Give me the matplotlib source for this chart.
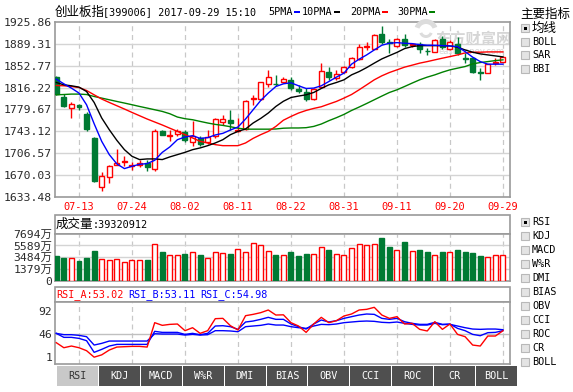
import matplotlib
matplotlib.use("Agg")
import matplotlib.pyplot as plt
from matplotlib.patches import Rectangle, Wedge

plt.rcParams['font.family'] = ['DejaVu Sans Mono', 'Noto Sans CJK SC']

# ---- data ----
dates = ['07-10', '07-11', '07-12', '07-13', '07-14', '07-17', '07-18', '07-19', '07-20', '07-21',
         '07-24', '07-25', '07-26', '07-27', '07-28', '07-31', '08-01', '08-02', '08-03', '08-04',
         '08-07', '08-08', '08-09', '08-10', '08-11', '08-14', '08-15', '08-16', '08-17', '08-18',
         '08-21', '08-22', '08-23', '08-24', '08-25', '08-28', '08-29', '08-30', '08-31', '09-01',
         '09-04', '09-05', '09-06', '09-07', '09-08', '09-11', '09-12', '09-13', '09-14', '09-15',
         '09-18', '09-19', '09-20', '09-21', '09-22', '09-25', '09-26', '09-27', '09-28', '09-29']
tick_dates = ['07-13', '07-24', '08-02', '08-11', '08-22', '08-31', '09-11', '09-20', '09-29']

open_ = [1833.2, 1800.2, 1781.2, 1786.2, 1771.8, 1732.3, 1650.0, 1666.7, 1686.7, 1691.7,
         1684.4, 1687.2, 1690.0, 1680.5, 1742.8, 1734.8, 1737.8, 1742.3, 1725.6, 1731.1,
         1724.4, 1734.4, 1758.5, 1762.3, 1743.1, 1746.8, 1797.4, 1796.9, 1821.9, 1822.7,
         1825.2, 1829.1, 1814.1, 1808.6, 1796.9, 1817.9, 1841.9, 1831.9, 1842.9, 1851.3,
         1863.6, 1883.7, 1881.3, 1905.9, 1891.7, 1885.8, 1897.0, 1887.5, 1889.2, 1878.0,
         1876.3, 1897.0, 1880.3, 1889.2, 1865.8, 1865.3, 1841.9, 1841.3, 1857.5, 1859.6]
close = [1805.7, 1785.7, 1787.9, 1782.8, 1746.8, 1660.0, 1668.4, 1685.0, 1690.0, 1693.1,
         1687.2, 1689.4, 1683.4, 1744.0, 1737.3, 1736.8, 1743.5, 1727.8, 1734.4, 1721.1,
         1732.8, 1763.5, 1763.5, 1756.8, 1745.3, 1794.0, 1799.4, 1825.2, 1833.6, 1821.4,
         1830.2, 1816.2, 1809.6, 1797.4, 1814.1, 1844.1, 1833.6, 1838.6, 1850.3, 1865.3,
         1883.7, 1885.3, 1904.2, 1892.5, 1890.0, 1896.7, 1887.0, 1888.3, 1880.3, 1877.0,
         1895.8, 1883.7, 1893.0, 1873.6, 1864.6, 1842.9, 1840.8, 1855.3, 1858.6, 1867.0]
high = [1834.9, 1805.7, 1791.9, 1788.5, 1774.5, 1733.1, 1675.5, 1687.2, 1713.4, 1702.2,
        1691.1, 1695.6, 1695.6, 1746.8, 1745.6, 1745.6, 1746.8, 1745.6, 1759.5, 1734.4,
        1745.6, 1765.7, 1770.7, 1779.0, 1765.7, 1795.7, 1804.0, 1825.7, 1845.8, 1837.4,
        1834.6, 1833.6, 1820.7, 1815.2, 1815.2, 1858.0, 1851.3, 1845.8, 1852.4, 1868.0,
        1889.2, 1891.7, 1905.0, 1919.2, 1897.5, 1898.3, 1905.9, 1891.0, 1893.0, 1882.0,
        1896.7, 1902.5, 1895.0, 1900.0, 1873.6, 1868.0, 1848.6, 1855.8, 1865.3, 1867.4]
low = [1804.0, 1783.5, 1764.5, 1777.8, 1742.8, 1657.7, 1643.8, 1656.7, 1686.0, 1684.4,
       1678.9, 1683.4, 1676.0, 1676.0, 1736.1, 1726.1, 1735.6, 1724.4, 1718.9, 1718.9,
       1722.3, 1731.8, 1753.5, 1745.6, 1741.1, 1745.6, 1787.4, 1795.7, 1816.9, 1819.1,
       1823.6, 1812.4, 1806.9, 1792.9, 1795.7, 1816.9, 1829.1, 1829.1, 1840.3, 1848.6,
       1862.4, 1878.3, 1880.0, 1889.2, 1873.6, 1884.7, 1884.7, 1884.0, 1873.6, 1870.8,
       1875.8, 1880.3, 1879.1, 1870.8, 1857.0, 1840.3, 1829.1, 1840.8, 1854.1, 1859.1]

ma5 = [1830.2, 1822.4, 1815.2, 1806.9, 1787.3, 1755.6, 1726.1, 1703.9, 1688.4, 1680.5,
       1684.4, 1687.7, 1688.9, 1694.4, 1707.7, 1716.8, 1728.9, 1733.4, 1735.6, 1731.1,
       1732.3, 1736.8, 1739.5, 1745.1, 1750.1, 1763.5, 1779.0, 1794.5, 1806.9, 1817.9,
       1822.4, 1824.1, 1819.1, 1814.6, 1815.2, 1819.1, 1826.2, 1833.6, 1840.3, 1855.3,
       1863.6, 1870.8, 1879.1, 1887.0, 1890.3, 1891.3, 1890.3, 1889.7, 1888.0, 1887.0,
       1887.0, 1886.3, 1885.8, 1884.7, 1876.3, 1867.0, 1859.6, 1855.3, 1855.3, 1855.3]
ma10 = [1824.6, 1820.7, 1819.1, 1816.9, 1809.5, 1791.2, 1765.2, 1745.6, 1727.8, 1712.2,
        1701.1, 1695.6, 1696.7, 1696.7, 1695.6, 1700.1, 1703.9, 1707.7, 1712.2, 1715.1,
        1718.9, 1723.4, 1728.9, 1737.3, 1742.8, 1746.8, 1756.8, 1764.5, 1773.5, 1784.5,
        1793.2, 1799.5, 1801.9, 1804.0, 1807.9, 1814.6, 1820.7, 1824.6, 1829.1, 1837.4,
        1842.9, 1849.6, 1857.0, 1864.1, 1869.6, 1875.0, 1881.3, 1884.7, 1886.3, 1886.3,
        1886.3, 1886.3, 1885.8, 1883.7, 1879.1, 1875.3, 1872.5, 1870.8, 1869.1, 1867.5]
ma20 = [1819.6, 1819.1, 1817.9, 1816.2, 1811.2, 1804.0, 1796.9, 1791.2, 1785.7, 1780.2,
        1774.5, 1769.0, 1763.5, 1758.5, 1753.5, 1748.1, 1742.8, 1737.3, 1731.8, 1726.1,
        1723.4, 1720.6, 1718.9, 1718.9, 1718.9, 1723.4, 1731.1, 1737.3, 1742.8, 1751.1,
        1761.5, 1767.8, 1773.5, 1777.8, 1781.2, 1784.0, 1788.5, 1792.9, 1798.5, 1804.5,
        1812.4, 1820.7, 1829.1, 1835.8, 1841.3, 1845.8, 1850.3, 1853.6, 1857.0, 1859.6,
        1862.5, 1865.3, 1868.0, 1870.8, 1874.1, 1875.3, 1875.3, 1875.8, 1875.8, 1875.8]
ma30 = [1804.0, 1804.5, 1805.2, 1805.2, 1804.5, 1801.2, 1798.5, 1795.7, 1792.9, 1790.2,
        1787.4, 1784.5, 1781.8, 1779.0, 1776.2, 1772.3, 1766.8, 1764.0, 1762.3, 1759.5,
        1756.8, 1754.5, 1752.8, 1750.6, 1748.1, 1746.5, 1746.5, 1746.5, 1746.5, 1746.8,
        1748.1, 1748.5, 1748.5, 1749.0, 1751.1, 1755.1, 1760.7, 1765.7, 1771.2, 1777.8,
        1783.5, 1789.5, 1795.7, 1801.9, 1807.9, 1812.4, 1817.9, 1823.6, 1829.1, 1833.6,
        1837.4, 1841.9, 1845.8, 1848.6, 1851.3, 1855.8, 1858.0, 1859.6, 1861.3, 1862.5]

# volume in 万 (10k)
volume = [3758, 3400, 3347, 2864, 3400, 4653, 3168, 3043, 3168, 2631,
          2989, 2989, 3043, 5851, 4474, 3883, 3883, 4116, 4420, 3937,
          3347, 4420, 4241, 4116, 4957, 4420, 6030, 5726, 4653, 3883,
          3937, 4349, 3758, 3991, 3991, 5315, 4706, 4116, 3937, 5189,
          5905, 5601, 5905, 6978, 5243, 4832, 6263, 4653, 4832, 4349,
          3937, 4349, 4474, 4832, 4474, 4170, 3758, 3579, 3937, 3932]

rsi_a = [29.7, 19.9, 23.2, 19.9, 14.1, 1.5, 6.0, 15.4, 21.2, 21.9,
         22.5, 22.5, 21.2, 68.7, 63.5, 65.4, 66.1, 53.1, 58.9, 47.9,
         53.1, 76.5, 77.1, 62.8, 54.4, 82.3, 84.9, 88.2, 93.4, 83.6,
         84.0, 68.7, 62.2, 49.8, 66.1, 79.1, 68.7, 72.6, 81.7, 85.6,
         93.4, 94.7, 98.6, 83.6, 77.1, 80.4, 66.1, 67.4, 55.7, 52.5,
         70.6, 55.7, 66.1, 45.9, 41.4, 25.1, 23.2, 42.7, 42.7, 53.02]
rsi_b = [47.9, 40.1, 40.1, 38.1, 33.6, 10.9, 16.7, 23.2, 26.4, 26.4,
         26.4, 26.4, 26.4, 51.8, 49.8, 49.8, 49.8, 45.9, 47.9, 45.3,
         47.9, 62.2, 62.8, 60.9, 55.7, 70.0, 71.9, 75.2, 79.1, 75.2,
         75.2, 66.1, 60.9, 56.3, 66.1, 73.9, 70.0, 72.6, 77.1, 80.4,
         83.6, 85.6, 84.9, 77.1, 75.2, 77.1, 70.6, 67.4, 65.4, 65.4,
         69.4, 65.4, 66.1, 57.6, 53.1, 45.9, 43.3, 49.2, 49.8, 53.11]
rsi_c = [47.9, 45.3, 45.3, 44.0, 41.4, 25.1, 28.4, 32.9, 32.9, 32.9,
         32.9, 32.9, 32.9, 47.2, 46.6, 46.6, 46.6, 44.6, 45.9, 44.6,
         45.3, 53.1, 53.1, 52.5, 51.1, 60.9, 62.2, 63.5, 66.1, 64.1,
         64.1, 60.9, 58.9, 57.6, 62.2, 65.4, 64.8, 66.1, 68.7, 70.0,
         71.3, 71.9, 71.3, 69.4, 68.7, 70.0, 67.4, 65.4, 64.1, 64.1,
         67.4, 64.8, 65.4, 62.2, 58.9, 56.3, 55.7, 56.3, 56.3, 54.98]

price_ticks = [1633.48, 1670.03, 1706.57, 1743.12, 1779.67, 1816.22, 1852.77, 1889.31, 1925.86]
vol_ticks = [1379, 3484, 5589, 7694]
rsi_ticks = [1, 46, 92]
total_volume = '39320912'
main_tabs = ['均线', 'BOLL', 'SAR', 'BBI']
sub_tabs = ['RSI', 'KDJ', 'MACD', 'W%R', 'DMI', 'BIAS', 'OBV', 'CCI', 'ROC', 'CR', 'BOLL']

# ---- style ----
W, H = 573, 392
RED = '#ff0000'
GREEN = '#007a33'
GRID = '#d4d4d4'
FRAME = '#9a9a9a'
LAB = '#2a2a2a'


def px_rect(x0, y0, x1, y1):
    return [x0 / W, 1 - y1 / H, (x1 - x0) / W, (y1 - y0) / H]


fig = plt.figure(figsize=(W / 100, H / 100), dpi=100)
fig.patch.set_facecolor('white')

# decoration layer in pixel coordinates
deco = fig.add_axes([0, 0, 1, 1], zorder=0)
deco.set_xlim(0, W)
deco.set_ylim(H, 0)
deco.axis('off')

n = len(dates)
idx = list(range(n))
xlim = (-0.17, n - 1 + 0.93)
tick_pos = [dates.index(d) for d in tick_dates]
bw = 0.66


def style_axes(ax):
    ax.set_xlim(*xlim)
    for s in ax.spines.values():
        s.set_color(FRAME)
        s.set_linewidth(1.2)
    ax.tick_params(length=0, colors=LAB, labelsize=8.2, pad=2)
    for p in tick_pos:
        ax.axvline(p, color='#c8c8c8', lw=0.9, ls=(0, (4, 3)), zorder=0.5)


# ---- main price panel ----
ax = fig.add_axes(px_rect(55, 22, 510, 196.7), zorder=2)
style_axes(ax)
ax.set_ylim(price_ticks[0], price_ticks[-1])
ax.set_yticks(price_ticks)
ax.set_yticklabels(['%.2f' % t for t in price_ticks])
for t in price_ticks[1:-1]:
    ax.axhline(t, color=GRID, lw=1, zorder=0.5)
ax.set_xticks(tick_pos)
ax.set_xticklabels(tick_dates, color=RED, fontsize=7.4)
ax.tick_params(axis='x', pad=4)

# watermark
ax.text(0.92, 0.905, '东方财富网', transform=ax.transAxes, ha='center', va='center',
        fontsize=11, color='#d6d6d6', fontweight='bold', family='Noto Sans CJK SC', zorder=0.6)
ax.text(0.915, 0.83, 'eastmoney.com', transform=ax.transAxes, ha='center', va='center',
        fontsize=6, color='#d6d6d6', family='DejaVu Sans', zorder=0.6)
deco_top = fig.add_axes(px_rect(410, 16, 440, 46), zorder=2.5)
deco_top.set_xlim(0, 30)
deco_top.set_ylim(30, 0)
deco_top.axis('off')
deco_top.add_patch(Wedge((16, 15), 12, 200, 340, width=5, facecolor='#dcdcdc', ec='none'))
deco_top.add_patch(Wedge((16, 15), 7, 20, 160, width=3, facecolor='#dcdcdc', ec='none'))

for i in idx:
    o, c, hi, lo = open_[i], close[i], high[i], low[i]
    up = c >= o
    col = RED if up else GREEN
    top, bot = max(o, c), min(o, c)
    ax.vlines(i, top, hi, color=col, lw=1, zorder=2)
    ax.vlines(i, lo, bot, color=col, lw=1, zorder=2)
    ax.add_patch(Rectangle((i - bw / 2, bot), bw, max(top - bot, 0.3),
                           facecolor='white' if up else GREEN, edgecolor=col, lw=1, zorder=3))

ax.plot(idx, ma30, color='#008000', lw=1, zorder=4)
ax.plot(idx, ma20, color=RED, lw=1, zorder=4)
ax.plot(idx, ma10, color='black', lw=1, zorder=4)
ax.plot(idx, ma5, color='#0000ff', lw=1, zorder=4)

# ---- volume panel ----
vol_floor = 2 * vol_ticks[0] - vol_ticks[1]
deco.add_patch(Rectangle((55, 215), 455, 18.7, fill=False, ec=FRAME, lw=1.2))
deco.text(56, 224.5, '成交量', fontsize=9, va='center', ha='left', color='black', family='Noto Sans CJK SC')
deco.text(93, 224.5, ':' + total_volume, fontsize=7.3, va='center', ha='left', color='black')

axv = fig.add_axes(px_rect(55, 233.7, 510, 280.7), zorder=2)
style_axes(axv)
axv.set_ylim(vol_floor, vol_ticks[-1])
axv.set_yticks([vol_floor] + vol_ticks)
axv.set_yticklabels(['0'] + ['%d万' % v for v in vol_ticks])
axv.set_xticks([])
for t in vol_ticks[:-1]:
    axv.axhline(t, color=GRID, lw=1, zorder=0.5)
for i in idx:
    up = close[i] >= open_[i]
    axv.bar(i, volume[i] - vol_floor, bottom=vol_floor, width=bw,
            color='white' if up else GREEN, edgecolor=RED if up else GREEN, lw=1, zorder=3)

# ---- RSI panel ----
deco.add_patch(Rectangle((55, 287.3), 455, 15, fill=False, ec=FRAME, lw=1.2))
deco.text(56, 295, 'RSI_A:%.2f' % rsi_a[-1], fontsize=7.3, color=RED, va='center')
deco.text(128, 295, 'RSI_B:%.2f' % rsi_b[-1], fontsize=7.3, color='#0000ff', va='center')
deco.text(200, 295, 'RSI_C:%.2f' % rsi_c[-1], fontsize=7.3, color='#0000ff', va='center')

axr = fig.add_axes(px_rect(55, 302.3, 510, 364.3), zorder=2)
style_axes(axr)
axr.set_ylim(-12.4, 108.4)
axr.set_yticks(rsi_ticks)
axr.set_xticks([])
axr.axhline(46, color='#c0c0c0', lw=1, zorder=0.5)
axr.plot(idx, rsi_c, color='#0000ff', lw=1, zorder=3)
axr.plot(idx, rsi_b, color='#0000ff', lw=1, zorder=3)
axr.plot(idx, rsi_a, color=RED, lw=1, zorder=4)

# ---- bottom tabs ----
tab_w = 41.96
for k, name in enumerate(sub_tabs):
    x0 = 56.7 + k * tab_w
    sel = k == 0
    deco.add_patch(Rectangle((x0, 365.7), tab_w - 1, 20.3, facecolor='#c8c8c8' if sel else '#4f4f4f', ec='none'))
    deco.text(x0 + (tab_w - 1) / 2, 376, name, ha='center', va='center', fontsize=7.3,
              color='#333333' if sel else 'white')

# ---- title & legend ----
deco.text(55, 12, '创业板指', fontsize=9, va='center', ha='left', family='Noto Sans CJK SC')
deco.text(103, 12, '[399006] 2017-09-29 15:10', fontsize=7.3, va='center', ha='left')
legend = [('5PMA', 268, '#0000ff'), ('10PMA', 302, 'black'), ('20PMA', 350, RED), ('30PMA', 397, '#008000')]
for name, x0, col in legend:
    deco.text(x0, 12, name, fontsize=7.3, va='center', ha='left')
    xe = x0 + 6.05 * len(name) + 2
    deco.add_patch(Rectangle((xe, 11), 6, 2, facecolor=col, ec='none'))

# ---- right side selectors ----
deco.text(520, 14, '主要指标', fontsize=9, va='center', ha='left', family='Noto Sans CJK SC')


def checkbox(y, label, checked):
    deco.add_patch(Rectangle((521, y - 4), 8, 8, facecolor='#e4e4e4', ec='#b8b8b8', lw=0.8))
    if checked:
        deco.add_patch(Rectangle((523.5, y - 1.5), 3, 3, facecolor='black', ec='none'))
    deco.text(532, y, label, fontsize=9 if label == '均线' else 7.3, va='center', ha='left',
              family='Noto Sans CJK SC' if label == '均线' else 'DejaVu Sans Mono')


for k, name in enumerate(main_tabs):
    checkbox(28 + k * 13.7, name, k == 0)
for k, name in enumerate(sub_tabs):
    checkbox(222.3 + k * 13.95, name, k == 0)

fig.savefig('out.png', dpi=100)
